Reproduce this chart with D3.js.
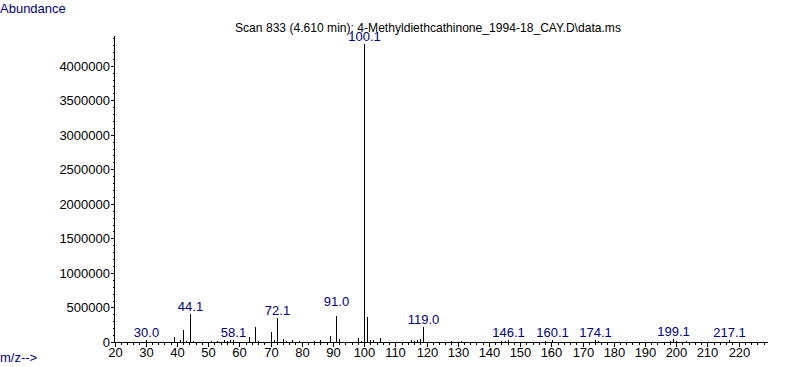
<!DOCTYPE html>
<html>
<head>
<meta charset="utf-8">
<script src="https://cdn.jsdelivr.net/npm/d3@7"></script>
<style>
  html, body { margin: 0; padding: 0; background: #fff; }
  svg { display: block; }
  text { font-family: "Liberation Sans", Arial, sans-serif; font-size: 13px; }
</style>
</head>
<body>
<script>
// ---- data ----
const titleText = "Scan 833 (4.610 min): 4-Methyldiethcathinone_1994-18_CAY.D\\data.ms";
const mzValues = [30.0, 39, 41, 42, 43, 44.1, 45, 51, 53, 55, 56, 57, 58.1, 63, 65, 66, 70, 71, 72.1, 74, 75, 77, 79, 84, 86, 89, 91.0, 92, 98, 99, 100.1, 101, 102, 103, 105, 115, 116, 117, 118, 119.0, 128, 131, 144, 145, 146.1, 158, 160.1, 174.1, 175, 198, 199.1, 200, 203, 217.1];
const abundances = [25000, 70000, 25000, 175000, 20000, 405000, 15000, 15000, 20000, 25000, 20000, 30000, 25000, 70000, 215000, 20000, 145000, 30000, 345000, 45000, 20000, 25000, 20000, 20000, 25000, 85000, 375000, 40000, 55000, 20000, 4320000, 360000, 30000, 25000, 55000, 25000, 20000, 30000, 40000, 215000, 15000, 15000, 15000, 20000, 25000, 15000, 25000, 25000, 10000, 15000, 45000, 10000, 15000, 25000];
const peakLabels = ["30.0", "44.1", "58.1", "72.1", "91.0", "100.1", "119.0", "146.1", "160.1", "174.1", "199.1", "217.1"];
const xTickValues = [20, 30, 40, 50, 60, 70, 80, 90, 100, 110, 120, 130, 140, 150, 160, 170, 180, 190, 200, 210, 220];
const yTickValues = [0, 500000, 1000000, 1500000, 2000000, 2500000, 3000000, 3500000, 4000000];

// ---- layout ----
const W = 787, H = 367;
const x0 = 114, xEnd = 768, yBase = 342, yTop = 36;
const blue = "#000080";

const svg = d3.select("body").append("svg").attr("width", W).attr("height", H);

const x = d3.scaleLinear().domain([20, 229.6]).range([x0 + 0.5, xEnd + 0.5]);
const y = d3.scaleLinear().domain([0, 4430000]).range([yBase, yTop]);

const px = v => Math.round(x(v)) + 0.5;
const py = v => Math.round(y(v));

// ---- axes ----
const g = svg.append("g").attr("shape-rendering", "crispEdges");

g.append("line").attr("x1", x0 + 0.5).attr("x2", x0 + 0.5)
  .attr("y1", yTop).attr("y2", yBase + 1).attr("stroke", "#000");
g.append("line").attr("x1", x0).attr("x2", xEnd)
  .attr("y1", yBase + 0.5).attr("y2", yBase + 0.5).attr("stroke", "#000");

const yMinor = d3.range(0, 4430000, 100000);
g.selectAll(".ymin").data(yMinor).enter().append("line")
  .attr("x1", x0 - 1).attr("x2", x0)
  .attr("y1", d => py(d) + 0.5).attr("y2", d => py(d) + 0.5)
  .attr("stroke", "#000");
g.selectAll(".ymaj").data(yTickValues).enter().append("line")
  .attr("x1", x0 - 3).attr("x2", x0)
  .attr("y1", d => py(d) + 0.5).attr("y2", d => py(d) + 0.5)
  .attr("stroke", "#000");
svg.selectAll(".ylab").data(yTickValues).enter().append("text")
  .attr("x", x0 - 4).attr("y", d => py(d) + 5)
  .attr("text-anchor", "end").attr("fill", "#000")
  .text(d => d3.format("d")(d));

const xMinor = d3.range(20, 229, 2);
g.selectAll(".xmin").data(xMinor).enter().append("line")
  .attr("x1", d => px(d)).attr("x2", d => px(d))
  .attr("y1", yBase).attr("y2", yBase + 3)
  .attr("stroke", "#000");
g.selectAll(".xmaj").data(xTickValues).enter().append("line")
  .attr("x1", d => px(d)).attr("x2", d => px(d))
  .attr("y1", yBase).attr("y2", yBase + 5)
  .attr("stroke", "#000");
svg.selectAll(".xlab").data(xTickValues).enter().append("text")
  .attr("x", d => px(d)).attr("y", 357)
  .attr("text-anchor", "middle").attr("fill", "#000")
  .text(d => d);

// ---- peaks ----
const peaks = mzValues.map((m, i) => ({ mz: m, ab: abundances[i] }));
g.selectAll(".peak").data(peaks).enter().append("line")
  .attr("x1", d => px(d.mz)).attr("x2", d => px(d.mz))
  .attr("y1", d => py(d.ab)).attr("y2", yBase)
  .attr("stroke", "#000");

// ---- peak labels ----
const labelData = peakLabels.map(l => {
  const m = +l;
  const p = peaks.reduce((a, b) => Math.abs(b.mz - m) < Math.abs(a.mz - m) ? b : a);
  return { text: l, mz: m, ab: p.ab };
});
const extraLift = { "91.0": 7, "100.1": 0 };
svg.selectAll(".plab").data(labelData).enter().append("text")
  .attr("x", d => px(d.mz)).attr("y", d => py(d.ab) - 3 - (extraLift[d.text] || 0))
  .attr("text-anchor", "middle").attr("fill", blue)
  .text(d => d.text);

// ---- titles ----
svg.append("text").attr("x", 0).attr("y", 13).attr("fill", blue).text("Abundance");
svg.append("text").attr("x", 0).attr("y", 362).attr("fill", blue).text("m/z-->");
svg.append("text").attr("x", 235).attr("y", 32).attr("fill", "#000")
  .attr("textLength", 386).attr("lengthAdjust", "spacingAndGlyphs").text(titleText);
</script>
</body>
</html>
